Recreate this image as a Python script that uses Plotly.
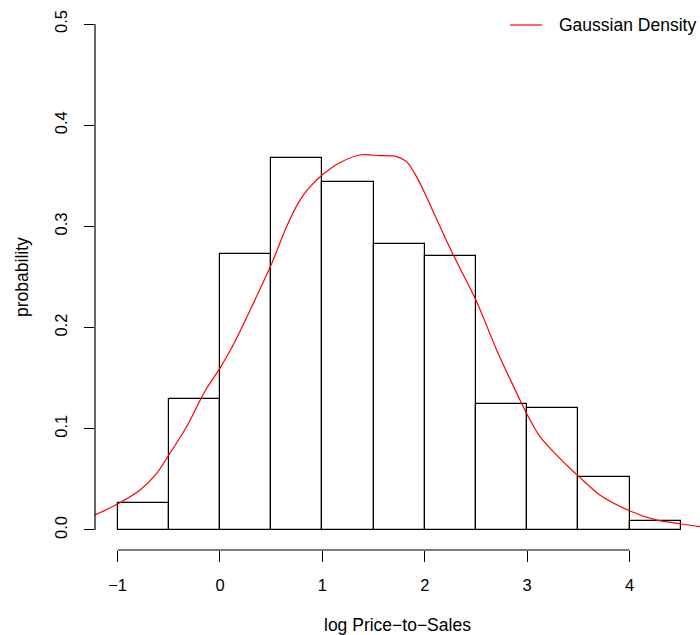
import plotly.graph_objects as go

# Histogram of log price-to-sales (density scale), bin width 0.5
bin_left = [-1.0, -0.5, 0.0, 0.5, 1.0, 1.5, 2.0, 2.5, 3.0, 3.5, 4.0]
bin_density = [0.0264, 0.1292, 0.2730, 0.3673, 0.3439, 0.2823, 0.2708,
               0.1242, 0.1202, 0.0527, 0.0086]
bin_width = 0.5

# Gaussian kernel density estimate
dens_x = [-1.22, -1.0, -0.78, -0.618, -0.5, -0.326, -0.195, -0.13, 0.0, 0.13,
          0.293, 0.5, 0.651, 0.781, 0.879, 1.0, 1.17, 1.367, 1.5625, 1.725,
          1.823, 1.92, 1.986, 2.083, 2.279, 2.507, 2.702, 2.93, 3.011, 3.125,
          3.255, 3.435, 3.506, 3.71, 4.004, 4.26, 4.506, 4.69]
dens_y = [0.0148, 0.0257, 0.0395, 0.0560, 0.0740, 0.102, 0.128, 0.140, 0.160,
          0.183, 0.217, 0.262, 0.300, 0.326, 0.339, 0.351, 0.363, 0.3706,
          0.3700, 0.3690, 0.3640, 0.3490, 0.3360, 0.3145, 0.2717, 0.2256,
          0.1779, 0.1285, 0.1120, 0.0922, 0.0774, 0.0593, 0.0527, 0.0346,
          0.0188, 0.0099, 0.0059, 0.0033]

x_ticks = [-1, 0, 1, 2, 3, 4]
x_tick_text = ["\u22121", "0", "1", "2", "3", "4"]
y_ticks = [0.0, 0.1, 0.2, 0.3, 0.4, 0.5]
y_tick_text = ["0.0", "0.1", "0.2", "0.3", "0.4", "0.5"]

legend_label = "Gaussian Density"
DENS_COLOR = "#ff0000"
FONT = "Liberation Sans, Arial, sans-serif"

fig = go.Figure()

fig.add_trace(go.Bar(
    x=[b + bin_width / 2 for b in bin_left],
    y=bin_density,
    width=bin_width,
    marker=dict(color="rgba(255,255,255,0)", line=dict(color="black", width=1.2)),
    showlegend=False,
    hoverinfo="skip",
))

fig.add_trace(go.Scatter(
    x=dens_x, y=dens_y,
    mode="lines",
    line=dict(color=DENS_COLOR, width=1.2, shape="spline", smoothing=0.8),
    name=legend_label,
    showlegend=False,
))

# detached R-style axis lines
fig.add_shape(type="line", xref="x", yref="paper",
              x0=x_ticks[0], x1=x_ticks[-1], y0=0, y1=0,
              line=dict(color="black", width=1.2))
fig.add_shape(type="line", xref="paper", yref="y",
              x0=0, x1=0, y0=y_ticks[0], y1=y_ticks[-1],
              line=dict(color="black", width=1.2))

# top-right legend (line sample + label, no box)
fig.add_shape(type="line", xref="paper", yref="paper",
              x0=0.686, x1=0.7388, y0=0.9615, y1=0.9615,
              line=dict(color=DENS_COLOR, width=1.2))
fig.add_annotation(text=legend_label, xref="paper", yref="paper",
                   x=0.7636, y=0.9615, xanchor="left", yanchor="middle",
                   showarrow=False,
                   font=dict(family=FONT, size=17.5, color="black"))

# axis titles
fig.add_annotation(text="log Price\u2212to\u2212Sales", xref="paper", yref="paper",
                   x=0.5, y=0, yshift=-75, xanchor="center", yanchor="middle",
                   showarrow=False,
                   font=dict(family=FONT, size=17.5, color="black"))
fig.add_annotation(text="probability", xref="paper", yref="y",
                   x=0, y=0.25, xshift=-73, xanchor="center", yanchor="middle",
                   showarrow=False, textangle=-90,
                   font=dict(family=FONT, size=17.5, color="black"))

fig.update_layout(
    width=700, height=635,
    margin=dict(l=95, r=0, t=4, b=85),
    paper_bgcolor="white", plot_bgcolor="white",
    bargap=0,
    showlegend=False,
    font=dict(family=FONT, size=16, color="black"),
    xaxis=dict(range=[-1.2207, 4.688], showgrid=False, zeroline=False,
               showline=False, tickmode="array", tickvals=x_ticks,
               ticktext=x_tick_text, ticks="outside", ticklen=11,
               tickcolor="black", tickwidth=1.2, ticklabelstandoff=9,
               tickfont=dict(family=FONT, size=16.5)),
    yaxis=dict(range=[-0.0198, 0.5198], showgrid=False, zeroline=False,
               showline=False, tickmode="array", tickvals=y_ticks,
               ticktext=y_tick_text, ticks="outside", ticklen=10,
               tickcolor="black", tickwidth=1.2, tickangle=-90,
               ticklabelstandoff=10, tickfont=dict(family=FONT, size=16.5)),
)

fig.write_html("out.html")
